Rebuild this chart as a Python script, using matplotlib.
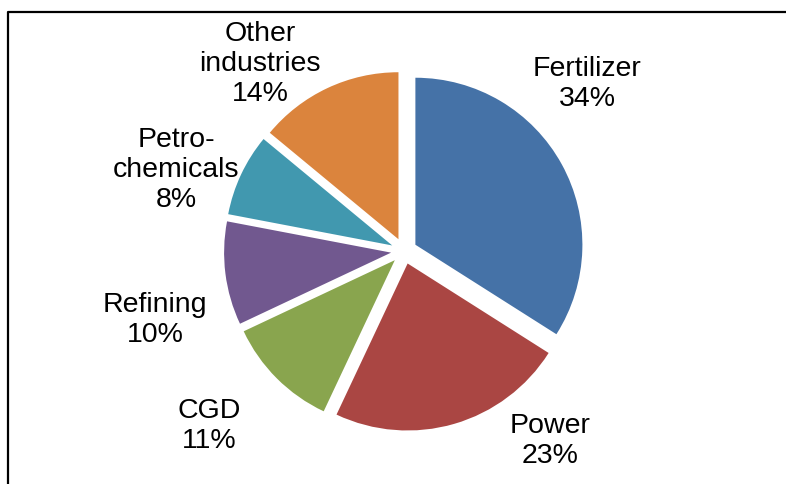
import matplotlib.pyplot as plt

# Gas consumption by sector
sectors = ['Fertilizer', 'Power', 'CGD', 'Refining', 'Petro-\nchemicals', 'Other\nindustries']
shares = [34, 23, 11, 10, 8, 14]
colors = ['#4572A7', '#AA4643', '#89A54E', '#71588F', '#4198AF', '#DB843D']

# label block centres in pixel coords (x, y from top)
label_pos = [(587, 84), (550, 441), (209, 426), (155, 320), (176, 170), (260, 64)]

W, H = 786, 484
fig = plt.figure(figsize=(W / 100, H / 100), dpi=100)
ax = fig.add_axes([0, 0, 1, 1])

labels = [f'{s}\n{v}%' for s, v in zip(sectors, shares)]
# explode is an absolute offset in data units (pixels here)
wedges, texts = ax.pie(shares, colors=colors, startangle=90, counterclock=False,
                       radius=167, center=(404, H - 251), explode=[13] * len(shares),
                       labels=labels, labeldistance=1.2,
                       wedgeprops=dict(linewidth=0),
                       textprops=dict(fontsize=20.5, family='Liberation Sans',
                                      ha='center', va='center', linespacing=1.22))
for t, (x, y) in zip(texts, label_pos):
    t.set_position((x, H - y))
    t.set_ha('center')
    t.set_va('center')
    t.set_multialignment('center')

# pie() resets the limits, so set them afterwards
ax.set_xlim(0, W)
ax.set_ylim(0, H)
ax.set_aspect('equal')
ax.axis('off')

# chart frame (only top and left edges visible)
ax.plot([8, 8, W + 5], [-5, H - 12, H - 12], color='black', lw=1.6, clip_on=False)

fig.savefig('out.png', dpi=100)
